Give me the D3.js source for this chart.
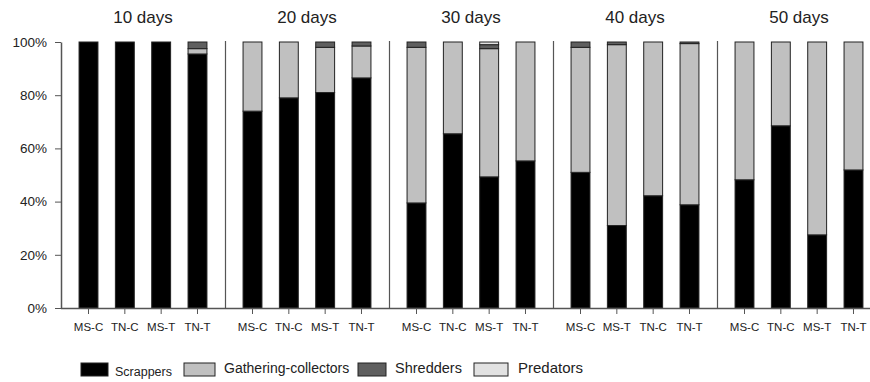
<!DOCTYPE html>
<html>
<head>
<meta charset="utf-8">
<script src="https://cdn.jsdelivr.net/npm/d3@7"></script>
<style>
  body { margin: 0; background: #fff; }
  text { font-family: "Liberation Sans", Arial, sans-serif; fill: #222; }
</style>
</head>
<body>
<div id="chart"></div>
<script>
var width = 870,
    height = 382;

// groups and the bar labels inside each (40 days has its own order)
var days = ["10 days", "20 days", "30 days", "40 days", "50 days"];
var barLabels = [
  ["MS-C", "TN-C", "MS-T", "TN-T"],
  ["MS-C", "TN-C", "MS-T", "TN-T"],
  ["MS-C", "TN-C", "MS-T", "TN-T"],
  ["MS-C", "MS-T", "TN-C", "TN-T"],
  ["MS-C", "TN-C", "MS-T", "TN-T"]
];
var groups = ["Scrappers", "Gathering-collectors", "Shredders", "Predators"];

// percent of each functional group, one row per sampling day
var scrappers  = [[100, 100, 100, 95.5], [74, 79, 81, 86.5], [39.5, 65.5, 49.3, 55.3], [51, 31, 42.2, 38.8], [48.2, 68.5, 27.5, 51.9]];
var gathering  = [[0, 0, 0, 2], [26, 21, 17, 12], [58.5, 34.5, 48.2, 44.7], [47, 68, 57.8, 60.6], [51.8, 31.5, 72.5, 48.1]];
var shredders  = [[0, 0, 0, 2.5], [0, 0, 2, 1.5], [2, 0, 1.5, 0], [2, 1, 0, 0.6], [0, 0, 0, 0]];
var predators  = [[0, 0, 0, 0], [0, 0, 0, 0], [0, 0, 1, 0], [0, 0, 0, 0], [0, 0, 0, 0]];
var yTicks = [0, 20, 40, 60, 80, 100];

var colors = {
  "Scrappers": "#000000",
  "Gathering-collectors": "#c0c0c0",
  "Shredders": "#5f5f5f",
  "Predators": "#e2e2e2"
};

var svg = d3.select("#chart").append("svg")
    .attr("width", width)
    .attr("height", height);

var x0 = d3.scaleBand().domain(days).range([61, 61 + 5 * 164]).paddingInner(0);
var x1 = d3.scaleBand().domain([0, 1, 2, 3]).range([0, x0.bandwidth()])
    .paddingInner(0.48).paddingOuter(0.497);
var y = d3.scaleLinear().domain([0, 100]).range([308, 42]);

// flatten to rows so d3.stack can do the sums
var rows = [];
days.forEach(function(d, g) {
  barLabels[g].forEach(function(lab, i) {
    rows.push({
      day: d, i: i, label: lab,
      "Scrappers": scrappers[g][i],
      "Gathering-collectors": gathering[g][i],
      "Shredders": shredders[g][i],
      "Predators": predators[g][i]
    });
  });
});

var series = d3.stack().keys(groups)(rows);

// group separators
svg.append("g").selectAll("line")
  .data(days.slice(1))
  .join("line")
    .attr("x1", function(d) { return Math.round(x0(d)) + 0.5; })
    .attr("x2", function(d) { return Math.round(x0(d)) + 0.5; })
    .attr("y1", y(100) - 1)
    .attr("y2", y(0))
    .attr("stroke", "#555")
    .attr("stroke-width", 1.2);

// bars
svg.append("g").selectAll("g")
  .data(series)
  .join("g")
    .attr("fill", function(s) { return colors[s.key]; })
  .selectAll("rect")
  .data(function(s) { return s.filter(function(p) { return p[1] - p[0] > 0; }); })
  .join("rect")
    .attr("x", function(p) { return x0(p.data.day) + x1(p.data.i); })
    .attr("width", x1.bandwidth())
    .attr("y", function(p) { return y(p[1]); })
    .attr("height", function(p) { return y(p[0]) - y(p[1]); })
    .attr("stroke", "#222")
    .attr("stroke-width", 1);

// y axis
var yAxis = svg.append("g")
    .attr("transform", "translate(61,0)")
    .call(d3.axisLeft(y).tickValues(yTicks)
      .tickFormat(function(d) { return d + "%"; })
      .tickSize(6).tickSizeOuter(0).tickPadding(8));
yAxis.select(".domain").attr("stroke", "#555").attr("stroke-width", 1.5);
yAxis.selectAll(".tick line").attr("stroke", "#555");
yAxis.selectAll("text").style("font-size", "13.5px").attr("fill", "#222");

// x axis line, ticks and labels (drawn by hand, labels repeat)
svg.append("line")
    .attr("x1", 61).attr("x2", width)
    .attr("y1", y(0) + 0.5).attr("y2", y(0) + 0.5)
    .attr("stroke", "#555").attr("stroke-width", 1.5);

var xt = svg.append("g").selectAll("g")
  .data(rows)
  .join("g")
    .attr("transform", function(r) {
      return "translate(" + (x0(r.day) + x1(r.i) + x1.bandwidth() / 2) + "," + y(0) + ")";
    });
xt.append("line").attr("y2", 6).attr("stroke", "#555");
xt.append("text")
    .attr("y", 23)
    .attr("text-anchor", "middle")
    .style("font-size", "11.5px")
    .text(function(r) { return r.label; });

// day titles
svg.append("g").selectAll("text")
  .data(days)
  .join("text")
    .attr("x", function(d) { return x0(d) + x0.bandwidth() / 2; })
    .attr("y", 23)
    .attr("text-anchor", "middle")
    .style("font-size", "17px")
    .text(function(d) { return d; });

// legend
var legendPos = [
  { sx: 81, sw: 27, tx: 115, fs: 12.5 },
  { sx: 184, sw: 31, tx: 224, fs: 14 },
  { sx: 358, sw: 28, tx: 395, fs: 14.5 },
  { sx: 474, sw: 34, tx: 518, fs: 15 }
];
var lg = svg.append("g").selectAll("g")
  .data(groups)
  .join("g");
lg.append("rect")
    .attr("x", function(d, i) { return legendPos[i].sx; })
    .attr("y", 363)
    .attr("width", function(d, i) { return legendPos[i].sw; })
    .attr("height", 13)
    .attr("fill", function(d) { return colors[d]; })
    .attr("stroke", "#222");
lg.append("text")
    .attr("x", function(d, i) { return legendPos[i].tx; })
    .attr("y", function(d, i) { return i === 0 ? 376 : 373; })
    .style("font-size", function(d, i) { return legendPos[i].fs + "px"; })
    .text(function(d) { return d; });
</script>
</body>
</html>
